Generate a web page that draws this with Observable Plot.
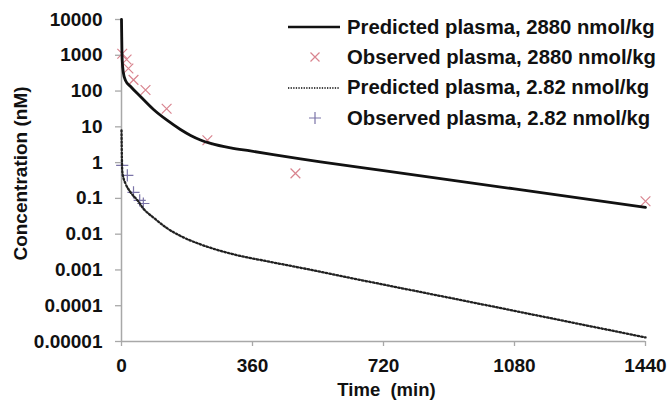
<!DOCTYPE html>
<html><head><meta charset="utf-8">
<script src="https://cdn.jsdelivr.net/npm/d3@7"></script>
<script src="https://cdn.jsdelivr.net/npm/@observablehq/plot@0.6"></script>
<style>
body{margin:0;background:#fff;}
#wrap{position:relative;width:670px;height:401px;font-family:"Liberation Sans",Arial,sans-serif;}
#legend{position:absolute;left:288px;top:12px;}
.row{display:flex;align-items:center;height:30.3px;}
.sw{width:52px;height:20px;margin-right:7px;flex:none;}
.lab{font-size:20.3px;font-weight:bold;color:#111;white-space:nowrap;}
</style></head><body><div id="wrap"><div id="legend"></div></div>
<script>
// ---- data ----
const timePred2880 = [0, 0.5, 1, 2, 5, 11, 25, 52, 88, 126, 162, 190, 217, 245, 300, 354, 492, 547, 720, 1080, 1440];
const concPred2880 = [10000, 4300, 1880, 716, 330, 198, 134, 70.6, 30.6, 15.1, 8.45, 5.75, 4.3, 3.44, 2.57, 2.12, 1.27, 1.05, 0.594, 0.184, 0.056];
const timeObs2880 = [2, 14, 19, 33, 66, 124, 236, 478, 1440];
const concObs2880 = [1100, 764, 426, 205, 107, 32, 4.2, 0.5, 0.083];
const timePred282 = [0, 0.5, 1, 2, 5, 11, 25, 44, 60, 88, 126, 170, 217, 308, 401, 492, 629, 951, 1440];
const concPred282 = [8, 3.5, 1.6, 0.6, 0.39, 0.26, 0.147, 0.088, 0.052, 0.029, 0.0145, 0.00814, 0.00519, 0.00273, 0.00174, 0.00115, 0.000598, 0.000132, 0.000013];
const timeObs282 = [2, 16, 33, 50, 60];
const concObs282 = [0.84, 0.44, 0.147, 0.088, 0.072];
const yTicks = [10000, 1000, 100, 10, 1, 0.1, 0.01, 0.001, 0.0001, 0.00001];
const yTickLabels = ["10000", "1000", "100", "10", "1", "0.1", "0.01", "0.001", "0.0001", "0.00001"];
const xTicks = [0, 360, 720, 1080, 1440];
const xTitle = "Time\u00a0 (min)";
const yTitle = "Concentration (nM)";
const seriesNames = ["Predicted plasma, 2880 nmol/kg", "Observed plasma, 2880 nmol/kg", "Predicted plasma, 2.82 nmol/kg", "Observed plasma, 2.82 nmol/kg"];

// ---- tables ----
const zip = (T, C) => T.map((t, i) => ({t, c: C[i]}));
const pred2880 = zip(timePred2880, concPred2880);
const obs2880 = zip(timeObs2880, concObs2880);
const pred282 = zip(timePred282, concPred282);
const obs282 = zip(timeObs282, concObs282);

const axisColor = "#a8a8a8";
const pink = "#d9848f";
const purple = "#7b74a8";
const font = '"Liberation Sans", Arial, sans-serif';

const chart = Plot.plot({
  width: 670, height: 401,
  marginLeft: 121, marginRight: 25, marginTop: 19, marginBottom: 60,
  style: {fontFamily: font, background: "white", color: "#111", overflow: "visible"},
  x: {domain: [0, 1440]},
  y: {type: "log", domain: [1e-5, 1e4]},
  marks: [
    Plot.ruleX([0], {stroke: axisColor, strokeWidth: 1.5}),
    Plot.ruleY([1e-5], {stroke: axisColor, strokeWidth: 1.5}),
    Plot.axisY({ticks: yTicks, tickFormat: d => yTickLabels[yTicks.indexOf(d)], tickSize: 6, tickPadding: 13,
      stroke: axisColor, strokeWidth: 1.3, fill: "#111", fontSize: 19, fontWeight: "bold", label: null}),
    Plot.axisX({ticks: xTicks, tickFormat: d => String(d), tickSize: 5, tickPadding: 12,
      stroke: axisColor, strokeWidth: 1.3, fill: "#111", fontSize: 19, fontWeight: "bold", label: null}),
    Plot.dot(obs2880, {x: "t", y: "c", symbol: "times", r: 4.5, stroke: pink, strokeWidth: 1.2}),
    Plot.dot(obs282, {x: "t", y: "c", symbol: "plus", r: 4, stroke: purple, strokeWidth: 1.2}),
    Plot.line(pred2880, {x: "t", y: "c", stroke: "#111", strokeWidth: 2.8, curve: "monotone-x"}),
    Plot.line(pred282, {x: "t", y: "c", stroke: "#222", strokeWidth: 2.3, strokeDasharray: "1.5,2.2", curve: "monotone-x"}),
    Plot.text([yTitle], {text: d => d, frameAnchor: "left", textAnchor: "middle", lineAnchor: "middle", rotate: -90, dx: -101, dy: -7, fontSize: 19, fontWeight: "bold", fill: "#111"}),
    Plot.text([xTitle], {text: d => d, frameAnchor: "bottom", textAnchor: "middle", lineAnchor: "middle", dx: 3, dy: 49, fontSize: 18.5, fontWeight: "bold", fill: "#111"})
  ]
});
document.getElementById("wrap").prepend(chart);

// ---- legend ----
const swatches = [
  `<line x1="0" x2="52" y1="10" y2="10" stroke="#111" stroke-width="2.6"/>`,
  `<path d="M22.5,5.5L31.5,14.5M22.5,14.5L31.5,5.5" stroke="${pink}" stroke-width="1.2" fill="none"/>`,
  `<line x1="0" x2="52" y1="10" y2="10" stroke="#444" stroke-width="2" stroke-dasharray="1.3,1.3"/>`,
  `<path d="M21,10H33M27,4V16" stroke="${purple}" stroke-width="1.2" fill="none"/>`
];
const legend = document.getElementById("legend");
seriesNames.forEach((name, i) => {
  const row = document.createElement("div");
  row.className = "row";
  row.innerHTML = `<svg class="sw" width="52" height="20" viewBox="0 0 52 20">${swatches[i]}</svg><span class="lab"></span>`;
  row.querySelector(".lab").textContent = name;
  legend.appendChild(row);
});
</script>
</body></html>
